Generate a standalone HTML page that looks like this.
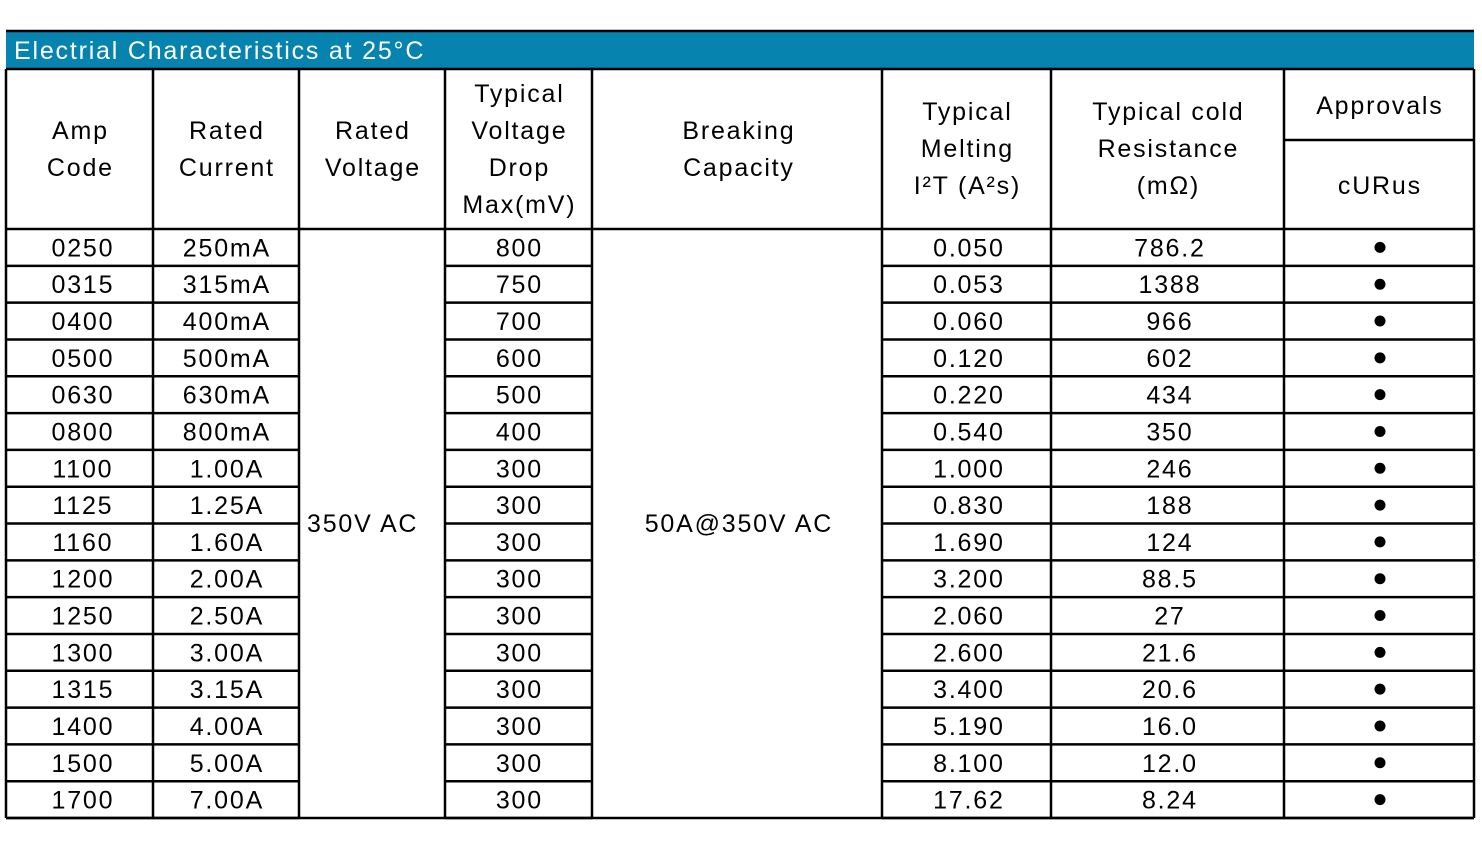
<!DOCTYPE html>
<html><head><meta charset="utf-8"><style>
body{margin:0;background:#fff;width:1482px;height:858px;overflow:hidden}
svg text{font-family:"Liberation Sans",sans-serif;font-size:25px;letter-spacing:1.8px;fill:#000}
</style></head><body>
<svg id="s" width="1482" height="858">
<rect x="6" y="31" width="1468" height="38" fill="#0783b0"/>
<text x="14" y="59" style="fill:#fff;font-size:25px">Electrial Characteristics at 25°C</text>
</svg>
<script>
const codes=["0250","0315","0400","0500","0630","0800","1100","1125","1160","1200","1250","1300","1315","1400","1500","1700"];
const currents=["250mA","315mA","400mA","500mA","630mA","800mA","1.00A","1.25A","1.60A","2.00A","2.50A","3.00A","3.15A","4.00A","5.00A","7.00A"];
const drops=["800","750","700","600","500","400","300","300","300","300","300","300","300","300","300","300"];
const melting=["0.050","0.053","0.060","0.120","0.220","0.540","1.000","0.830","1.690","3.200","2.060","2.600","3.400","5.190","8.100","17.62"];
const resist=["786.2","1388","966","602","434","350","246","188","124","88.5","27","21.6","20.6","16.0","12.0","8.24"];
const s=document.getElementById('s');
const NS='http://www.w3.org/2000/svg';
const cx=[6,153,299,445,592,882,1051,1284,1474];
const top0=229,bot=818,rh=(bot-top0)/16;
function line(x1,y1,x2,y2,n){const l=document.createElementNS(NS,'line');l.setAttribute('x1',x1);l.setAttribute('y1',y1);l.setAttribute('x2',x2);l.setAttribute('y2',y2);l.setAttribute('stroke','#000');l.setAttribute('stroke-width','2.5');


s.appendChild(l);}
function txt(x,y,t,n,anchor){const e=document.createElementNS(NS,'text');e.setAttribute('x',(anchor?x:x+0.9));e.setAttribute('y',y);e.setAttribute('text-anchor',anchor||'middle');e.textContent=t;


s.appendChild(e);}
cx.forEach((x,i)=>line(x,69,x,bot,'column-border'));
line(6,69,1474,69,'header-top-border');
line(6,31,1474,31,'table-top-border');
line(6,229,1474,229,'header-bottom-border');
line(1284,140,1474,140,'approvals-divider');
for(let i=1;i<=16;i++){const y=top0+rh*i;
 [[0,2],[3,4],[5,8]].forEach(([a,b])=>line(cx[a],y,cx[b],y,'row-border'));}
line(6,bot,1474,bot,'table-bottom-border');
const mid=i=>(cx[i]+cx[i+1])/2;
txt(mid(0),139,'Amp','header-amp-code');txt(mid(0),176,'Code','header-amp-code');
txt(mid(1),139,'Rated','header-rated-current');txt(mid(1),176,'Current','header-rated-current');
txt(mid(2),139,'Rated','header-rated-voltage');txt(mid(2),176,'Voltage','header-rated-voltage');
['Typical','Voltage','Drop','Max(mV)'].forEach((t,k)=>txt(mid(3),102+37*k,t,'header-voltage-drop'));
txt(738,139,'Breaking','header-breaking-capacity');txt(738,176,'Capacity','header-breaking-capacity');
['Typical','Melting','I²T (A²s)'].forEach((t,k)=>txt(mid(5),120+37*k,t,'header-melting'));
['Typical cold','Resistance','(mΩ)'].forEach((t,k)=>txt(mid(6),120+37*k,t,'header-resistance'));
txt(mid(7),114,'Approvals','header-approvals');txt(mid(7),194,'cURus','header-curus');
for(let i=0;i<16;i++){const y=top0+rh*i+rh/2+9;
 txt(82,y,codes[i],'amp-code-cell');
 txt(mid(1),y,currents[i],'rated-current-cell');
 txt(mid(3),y,drops[i],'voltage-drop-cell');
 txt(968,y,melting[i],'melting-cell');
 txt(1169,y,resist[i],'resistance-cell');
 const c=document.createElementNS(NS,'circle');c.setAttribute('cx',1380);c.setAttribute('cy',y-9);c.setAttribute('r',5.5);
 
 
 s.appendChild(c);}
txt(307,532,'350V AC','rated-voltage-value','start');
txt(738,532,'50A@350V AC','breaking-capacity-value');
</script>
</body></html>
